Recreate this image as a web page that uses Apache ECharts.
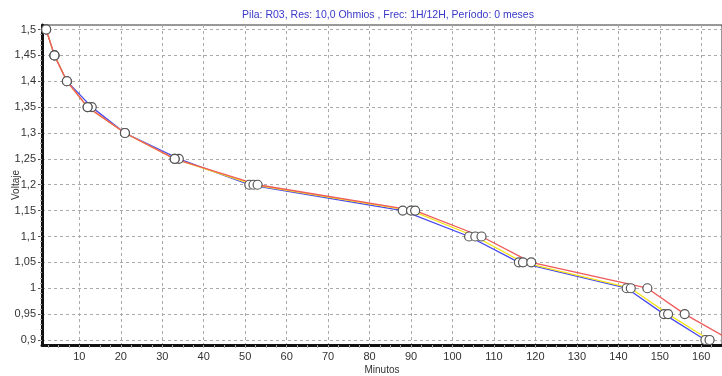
<!DOCTYPE html>
<html>
<head>
<meta charset="utf-8">
<script src="https://cdn.jsdelivr.net/npm/echarts@6/dist/echarts.min.js"></script>
<style>
  html, body { margin: 0; padding: 0; background: #fff; }
  #chart { width: 722px; height: 376px; }
</style>
</head>
<body>
<div id="chart"></div>
<script>
// eje X (minutos) y eje Y (voltaje)
const xTicks = [10, 20, 30, 40, 50, 60, 70, 80, 90, 100, 110, 120, 130, 140, 150, 160]
const yTicks = [0.9, 0.95, 1, 1.05, 1.1, 1.15, 1.2, 1.25, 1.3, 1.35, 1.4, 1.45, 1.5]

// tres mediciones: [minutos, voltaje]
const serieAzul = [[2, 1.5], [4, 1.45], [7, 1.4], [13, 1.35], [21, 1.3], [34, 1.25], [51, 1.2],
  [88, 1.15], [104, 1.1], [116, 1.05], [142, 1.0], [151, 0.95], [161, 0.9]]
const serieAmarilla = [[2, 1.5], [4, 1.45], [7, 1.4], [12, 1.35], [21, 1.3], [33, 1.25], [52, 1.2],
  [90, 1.15], [105.5, 1.1], [117, 1.05], [143, 1.0], [152, 0.95], [162, 0.9]]
const serieRoja = [[2, 1.5], [4, 1.45], [7, 1.4], [12, 1.35], [21, 1.3], [33, 1.25], [53, 1.2],
  [91, 1.15], [107, 1.1], [119, 1.05], [147, 1.0], [156, 0.95], [167, 0.9]]

const titulo = 'Pila: R03, Res: 10,0 Ohmios , Frec: 1H/12H, Período: 0 meses'

// ticks menores (solo para las marcas pequeñas de los ejes)
const xMinor = []
for (let v = 2.5; v < 165; v += 2.5) xMinor.push(v)
const yMinor = []
for (let v = 180; v <= 300; v += 2) yMinor.push(v / 200)

const font = 'Liberation Sans, Arial, sans-serif'
const X_MIN = 1, X_MAX = 165, Y_MIN = 0.8903, Y_MAX = 1.5087

const chart = echarts.init(document.getElementById('chart'))

function serie(data, color) {
  return {
    type: 'line',
    data: data,
    xAxisIndex: 0,
    yAxisIndex: 0,
    symbol: 'circle',
    symbolSize: 9,
    clip: true,
    lineStyle: { color: color, width: 1.3 },
    itemStyle: { color: '#fff', borderColor: '#555', borderWidth: 1.2 },
    emphasis: { disabled: true },
    animation: false
  }
}

chart.setOption({
  backgroundColor: '#fff',
  title: {
    text: titulo,
    left: 383,
    textAlign: 'center',
    top: 5,
    textStyle: { color: '#3838c8', fontSize: 10.5, fontWeight: 'normal', fontFamily: font }
  },
  grid: {
    left: 42, right: 0, top: 25, bottom: 31,
    outerBoundsMode: 'none',
    containLabel: false,
    show: true, borderColor: '#333', borderWidth: 1
  },
  xAxis: [
    {
      type: 'value', min: X_MIN, max: X_MAX,
      name: 'Minutos', nameLocation: 'middle', nameGap: 20, nameMoveOverlap: false,
      nameTextStyle: { color: '#333', fontSize: 10, fontFamily: font },
      axisLine: { show: true, lineStyle: { color: '#111', width: 3 } },
      axisTick: { show: false, customValues: xTicks },
      axisLabel: { customValues: xTicks, color: '#333', fontSize: 11, fontFamily: font, margin: 6 },
      splitLine: { show: true, lineStyle: { color: '#aaa', type: [3, 3], width: 1 } }
    },
    {
      type: 'value', min: X_MIN, max: X_MAX, position: 'bottom',
      axisLine: { show: false },
      axisTick: { show: true, customValues: xMinor, length: 3, lineStyle: { color: '#aaa' } },
      axisLabel: { show: false },
      splitLine: { show: false }
    }
  ],
  yAxis: [
    {
      type: 'value', min: Y_MIN, max: Y_MAX,
      name: 'Voltaje', nameLocation: 'middle', nameGap: 21, nameRotate: 90, nameMoveOverlap: false,
      nameTextStyle: { color: '#333', fontSize: 10, fontFamily: font },
      axisLine: { show: true, lineStyle: { color: '#111', width: 3 } },
      axisTick: { show: true, customValues: yTicks, length: 4, lineStyle: { color: '#555' } },
      axisLabel: {
        customValues: yTicks, color: '#333', fontSize: 11, fontFamily: font, margin: 6,
        formatter: v => String(v).replace('.', ',')
      },
      splitLine: { show: true, lineStyle: { color: '#aaa', type: [3, 3], width: 1 } }
    },
    {
      type: 'value', min: Y_MIN, max: Y_MAX, position: 'left',
      axisLine: { show: false },
      axisTick: { show: true, customValues: yMinor, length: 2, lineStyle: { color: '#aaa' } },
      axisLabel: { show: false },
      splitLine: { show: false }
    }
  ],
  series: [
    serie(serieAzul, '#4848f0'),
    serie(serieAmarilla, '#f4e41c'),
    serie(serieRoja, '#f05a5a')
  ]
})
</script>
</body>
</html>
